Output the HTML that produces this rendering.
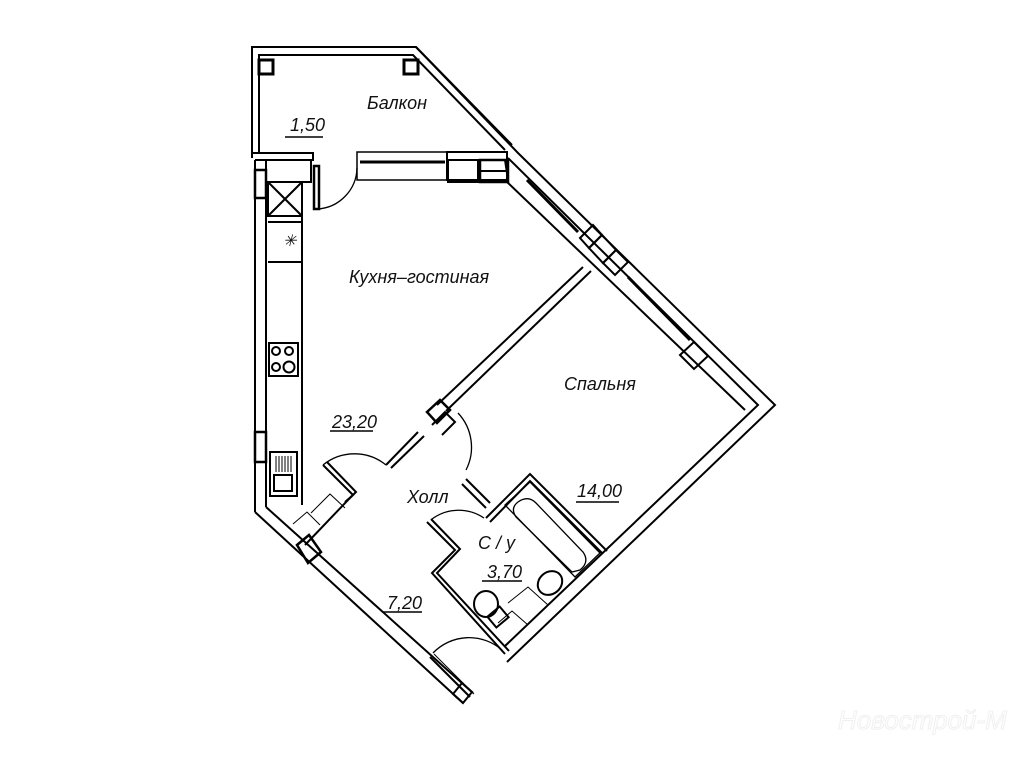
<!DOCTYPE html>
<html><head><meta charset="utf-8"><style>
html,body{margin:0;padding:0;background:#fff;}
svg{display:block}
text{font-family:"Liberation Sans",sans-serif;font-style:italic;fill:#111;}
</style></head><body>
<svg width="1024" height="768" viewBox="0 0 1024 768" xmlns="http://www.w3.org/2000/svg">
<g fill="none" stroke="#000" stroke-width="2">
<polyline points="252,158 252,47 416,47 512,145"/>
<polyline points="259,153 259,55 413,55 505,150"/>
<rect x="259" y="60" width="14" height="14" stroke-width="3"/>
<rect x="404" y="60" width="14" height="14" stroke-width="3"/>
<polyline points="252,153 313,153 313,160 255,160"/>
<rect x="357" y="152" width="90" height="28" stroke-width="1.5"/>
<line x1="360" y1="162" x2="445" y2="162" stroke-width="3"/>
<rect x="447" y="152" width="60" height="28"/>
<rect x="448" y="160" width="30" height="22"/>
<rect x="480" y="160" width="28" height="22" stroke-width="2.5"/>
<line x1="480" y1="171" x2="508" y2="171"/>
<line x1="505" y1="160" x2="508" y2="180"/>
<polyline points="416,47 518,153 775,405 507,662"/>
<polyline points="508,158 758,405 505,646"/>
<line x1="505" y1="180" x2="745" y2="410"/>
<line x1="527" y1="180" x2="578" y2="232" stroke-width="3"/>
<line x1="628" y1="277" x2="690" y2="340" stroke-width="3"/>
<polygon points="580,238 593,225 602,235 589,248"/>
<polygon points="589,248 602,235 616,250 603,263"/>
<polygon points="603,263 616,250 628,262 615,275"/>
<polygon points="680,355 694,342 708,356 694,369"/>
<line x1="255" y1="160" x2="255" y2="512"/>
<line x1="266" y1="166" x2="266" y2="507"/>
<rect x="255" y="170" width="11" height="28" stroke-width="2.5"/>
<rect x="255" y="432" width="11" height="30" stroke-width="2.5"/>
<rect x="266" y="160" width="45" height="22"/>
<line x1="255" y1="512" x2="463" y2="703"/>
<line x1="266" y1="507" x2="473" y2="693"/>
<polygon points="297,545 309,535 321,552 308,563" stroke-width="2.5"/>
<polygon points="462,683 472,692 463,703 453,694" stroke-width="2"/>
<line x1="302" y1="182" x2="302" y2="505"/>
<rect x="268" y="182" width="34" height="34"/><line x1="268" y1="182" x2="302" y2="216"/><line x1="302" y1="182" x2="268" y2="216"/>
<line x1="268" y1="222" x2="302" y2="222"/><line x1="268" y1="262" x2="302" y2="262"/>
<rect x="269" y="343" width="29" height="33"/>
<circle cx="276" cy="351" r="4"/><circle cx="289" cy="351" r="4"/><circle cx="276" cy="367" r="4"/><circle cx="289" cy="367" r="5.5"/>
<rect x="270" y="452" width="27" height="44"/>
<rect x="274" y="475" width="18" height="16"/>
<path d="M276 456v16M279 456v16M282 456v16M285 456v16M288 456v16M291 456v16" stroke-width="1"/>
<rect x="314" y="166" width="5" height="43" stroke-width="2.5"/>
<path d="M317 209 A42 42 0 0 0 357 168" stroke-width="1.3"/>
<line x1="583" y1="267" x2="437" y2="405"/><line x1="591" y1="271" x2="446" y2="411"/>
<polygon points="427,412 440,400 450,410 437,423" stroke-width="2.5"/>
<polyline points="432,425 445,412 455,422 442,435"/>
<line x1="418" y1="432" x2="386" y2="465"/><line x1="424" y1="436" x2="391" y2="468"/>
<path d="M386 465 A50 50 0 0 0 323 465" stroke-width="1.3"/>
<path d="M458 413 A50 50 0 0 1 466 470" stroke-width="1.3"/>
<line x1="466" y1="479" x2="490" y2="503"/><line x1="462" y1="484" x2="486" y2="508"/>
<polyline points="323,465 353,495 345,502"/>
<polyline points="327,462 356,492 348,500"/>
<line x1="348" y1="500" x2="305" y2="545"/>
<polyline points="293,524 307,512 320,525" stroke-width="1"/>
<polyline points="311,513 330,494 345,508" stroke-width="1"/>
<polyline points="486,518 530,474 607,551"/>
<polyline points="490,522 530,481 602,553"/>
<polyline points="427,522 455,550 432,573 505,654"/>
<polyline points="431,519 460,549 437,573 509,651"/>
<path d="M432 519 A45 45 0 0 1 484 518" stroke-width="1.3"/>
<path d="M433 653 A50 50 0 0 1 502 650" stroke-width="1.3"/>
<polyline points="430,657 470,697" stroke-width="2"/>
<polyline points="434,654 474,694" stroke-width="1"/>
<polygon points="505,505 530,482 600,553 575,577" stroke-width="1.3"/>
<path d="M518 502 Q528 495 536 503 L583 552 Q590 562 580 570 L572 572 L516 517 Q510 508 518 502Z" stroke-width="1.3"/>
<ellipse cx="550" cy="583" rx="13" ry="11" transform="rotate(-40 550 583)"/>
<ellipse cx="486" cy="604" rx="12" ry="13"/>
<rect x="490" y="610" width="16" height="14" transform="rotate(-40 498 617)"/>
<polyline points="508,603 528,587 548,605" stroke-width="1"/>
<polyline points="498,623 512,611 528,625" stroke-width="1"/>
</g>
<text x="367" y="109" font-size="18">Балкон</text>
<text x="290" y="131" font-size="18">1,50</text><line x1="285" y1="137" x2="323" y2="137" stroke="#000" stroke-width="1.5"/>
<text x="349" y="283" font-size="18">Кухня–гостиная</text>
<text x="564" y="390" font-size="18">Спальня</text>
<text x="332" y="428" font-size="18">23,20</text><line x1="330" y1="431" x2="373" y2="431" stroke="#000" stroke-width="1.5"/>
<text x="407" y="503" font-size="18">Холл</text>
<text x="577" y="497" font-size="18">14,00</text><line x1="576" y1="502" x2="619" y2="502" stroke="#000" stroke-width="1.5"/>
<text x="478" y="549" font-size="18">С / у</text>
<text x="487" y="578" font-size="18">3,70</text><line x1="482" y1="581" x2="522" y2="581" stroke="#000" stroke-width="1.5"/>
<text x="387" y="609" font-size="18">7,20</text><line x1="382" y1="612" x2="422" y2="612" stroke="#000" stroke-width="1.5"/>
<text x="283" y="246" font-size="16" font-style="normal">✳</text>
<text x="838" y="729" font-size="26" font-style="normal" style="fill:#fff;stroke:#f0f0f0;stroke-width:1">Новострой-М</text>
</svg>
</body></html>
